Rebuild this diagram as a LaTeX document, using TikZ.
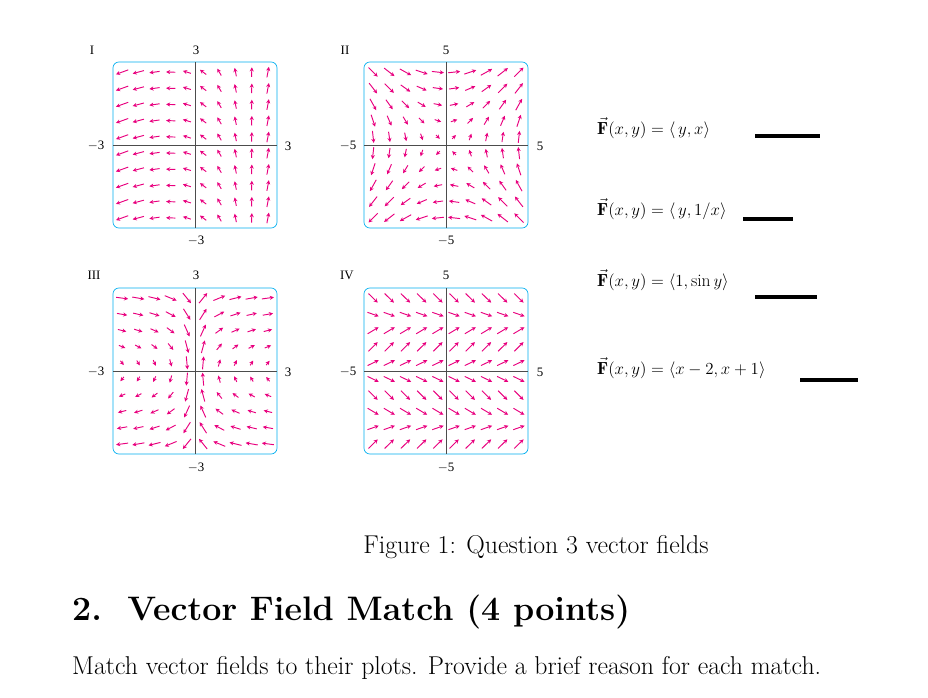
\documentclass[tikz,border=0pt]{standalone}
\usepackage{fontspec}
\usepackage{amsmath}
\newfontfamily\tms{Liberation Serif}
\usetikzlibrary{arrows.meta}
\definecolor{vmag}{RGB}{232,0,126}
\definecolor{vcyan}{RGB}{0,174,239}
\tikzset{
	every node/.style = { inner sep=0pt },
	frm/.style = { draw=vcyan, rounded corners=5pt, line width=0.6pt },
	ax/.style = { draw=black!70, line width=0.4pt },
	vec/.style = { vmag, line width=0.8pt, -{Stealth[length=3.5pt,width=3.5pt]} },
	tick/.style = { font=\tms\fontsize{11}{11}\selectfont },
	fml/.style = { font=\fontsize{15}{17}\selectfont, anchor=west },
	blank/.style = { line width=3pt },
}
% \vfield{cx}{cy}{range}{fx}{fy}{maxmag}
\newcommand{\vfield}[6]{
	\draw[frm] (#1-82,#2-83) rectangle (#1+82,#2+83);
	\draw[ax] (#1-82,#2) -- (#1+82,#2);
	\draw[ax] (#1,#2-83) -- (#1,#2+83);
	\foreach \i in {0,...,9}{
		\foreach \j in {0,...,9}{
			\pgfmathsetmacro\x{(\i-4.5)*2*#3/10}
			\pgfmathsetmacro\y{(4.5-\j)*2*#3/10}
			\pgfmathsetmacro\vx{#4}
			\pgfmathsetmacro\vy{#5}
			\pgfmathsetmacro\mg{sqrt(\vx*\vx+\vy*\vy)}
			\pgfmathsetmacro\L{4+9*min(1,\mg/#6)}
			\pgfmathsetmacro\dx{\L*\vx/\mg/2}
			\pgfmathsetmacro\dy{-\L*\vy/\mg/2}
			\draw[vec] ({#1+(\i-4.5)*16.2-\dx},{#2+(\j-4.5)*16.2-\dy})
			        -- ({#1+(\i-4.5)*16.2+\dx},{#2+(\j-4.5)*16.2+\dy});
		}
	}
}

\begin{document}
\begin{tikzpicture}[x=0.03cm,y=-0.03cm]
\useasboundingbox (0,0) rectangle (928,697);

% plots
\vfield{195}{145}{3}{\x-2}{\x+1}{5}
\vfield{446}{145}{5}{\y}{\x}{5}
\vfield{195}{371}{3}{\y}{1/\x}{3}
\vfield{446}{371}{5}{1}{sin(\y r)}{1.2}

% labels
\node (lI)   [tick] at (92,50)  {I};
\node (tI)   [tick] at (196,50) {3};
\node (wI)   [tick] at (96,146) {$-$3};
\node (eI)   [tick] at (288,146) {3};
\node (bI)   [tick] at (196,241) {$-$3};
\node (lII)  [tick] at (345,50) {II};
\node (tII)  [tick] at (446,50) {5};
\node (wII)  [tick] at (348,146) {$-$5};
\node (eII)  [tick] at (540,146) {5};
\node (bII)  [tick] at (446,241) {$-$5};
\node (lIII) [tick] at (94,275) {III};
\node (tIII) [tick] at (196,275) {3};
\node (wIII) [tick] at (96,372) {$-$3};
\node (eIII) [tick] at (288,372) {3};
\node (bIII) [tick] at (196,468) {$-$3};
\node (lIV)  [tick] at (347,275) {IV};
\node (tIV)  [tick] at (446,275) {5};
\node (wIV)  [tick] at (348,372) {$-$5};
\node (eIV)  [tick] at (540,372) {5};
\node (bIV)  [tick] at (446,468) {$-$5};

% formulas and blanks
\node (fa) [fml] at (597,128) {$\vec{\mathbf F}(x,y)=\langle\, y,x\rangle$};
\node (fb) [fml] at (597,209) {$\vec{\mathbf F}(x,y)=\langle\, y,1/x\rangle$};
\node (fc) [fml] at (597,280) {$\vec{\mathbf F}(x,y)=\langle 1,\sin y\rangle$};
\node (fd) [fml] at (597,368) {$\vec{\mathbf F}(x,y)=\langle x-2,x+1\rangle$};
\draw[blank] (755,136) -- (820,136);
\draw[blank] (743,219) -- (793,219);
\draw[blank] (755,297) -- (817,297);
\draw[blank] (800,380) -- (858,380);

% text
\node (cap) at (536,547) {\fontsize{22}{26}\selectfont Figure 1: Question 3 vector fields};
\node (hd) [anchor=west] at (72,612) {\fontsize{29}{34}\selectfont\bfseries 2.\ \ Vector Field Match (4 points)};
\node (tx) [anchor=west] at (72,668) {\fontsize{22}{26}\selectfont Match vector fields to their plots. Provide a brief reason for each match.};
\end{tikzpicture}
\end{document}
